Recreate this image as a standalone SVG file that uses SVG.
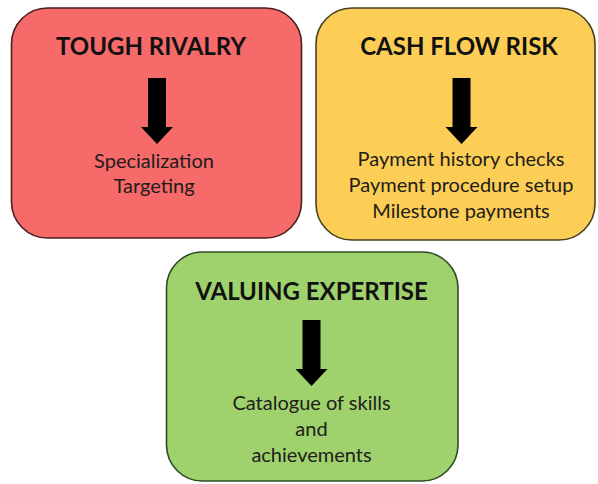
<svg xmlns="http://www.w3.org/2000/svg" width="598" height="484" viewBox="0 0 598 484">
  <defs>
    <style>
      .box { stroke-width: 1.6; }
      .title { font-family: Lato, "Liberation Sans", sans-serif; font-weight: bold; font-size: 24px; fill: #111; text-anchor: middle; }
      .body { font-family: Lato, "Liberation Sans", sans-serif; font-size: 20px; fill: #221c1c; text-anchor: middle; }
      .arrow { fill: #000; }
    </style>
    <path id="arr" d="M-9,0 H9 V49 H16 L0,66 L-16,49 H-9 Z"/>
  </defs>
  <rect width="598" height="484" fill="#fff"/>
  <g id="node-rivalry">
    <rect class="box" x="11.5" y="8" width="290" height="230" rx="36" fill="#F66A6A" stroke="#4a1f1f"/>
    <text class="title" x="151" y="55">TOUGH RIVALRY</text>
    <use href="#arr" class="arrow" x="157" y="78"/>
    <text class="body" x="154" y="168">Specialization</text>
    <text class="body" x="154" y="193">Targeting</text>
  </g>
  <g id="node-cashflow">
    <rect class="box" x="316" y="8" width="279" height="232" rx="36" fill="#FCCE55" stroke="#4a3f1f"/>
    <text class="title" x="459" y="55">CASH FLOW RISK</text>
    <use href="#arr" class="arrow" x="461.5" y="78"/>
    <text class="body" x="461" y="166">Payment history checks</text>
    <text class="body" x="461" y="192">Payment procedure setup</text>
    <text class="body" x="461" y="218">Milestone payments</text>
  </g>
  <g id="node-expertise">
    <rect class="box" x="166.5" y="252" width="291.5" height="229" rx="36" fill="#9FD26C" stroke="#2f4a25"/>
    <text class="title" x="311.5" y="300">VALUING EXPERTISE</text>
    <use href="#arr" class="arrow" x="311.5" y="320"/>
    <text class="body" x="311.5" y="410">Catalogue of skills</text>
    <text class="body" x="311.5" y="436">and</text>
    <text class="body" x="311.5" y="462">achievements</text>
  </g>
  <g id="connectors"></g>
</svg>
